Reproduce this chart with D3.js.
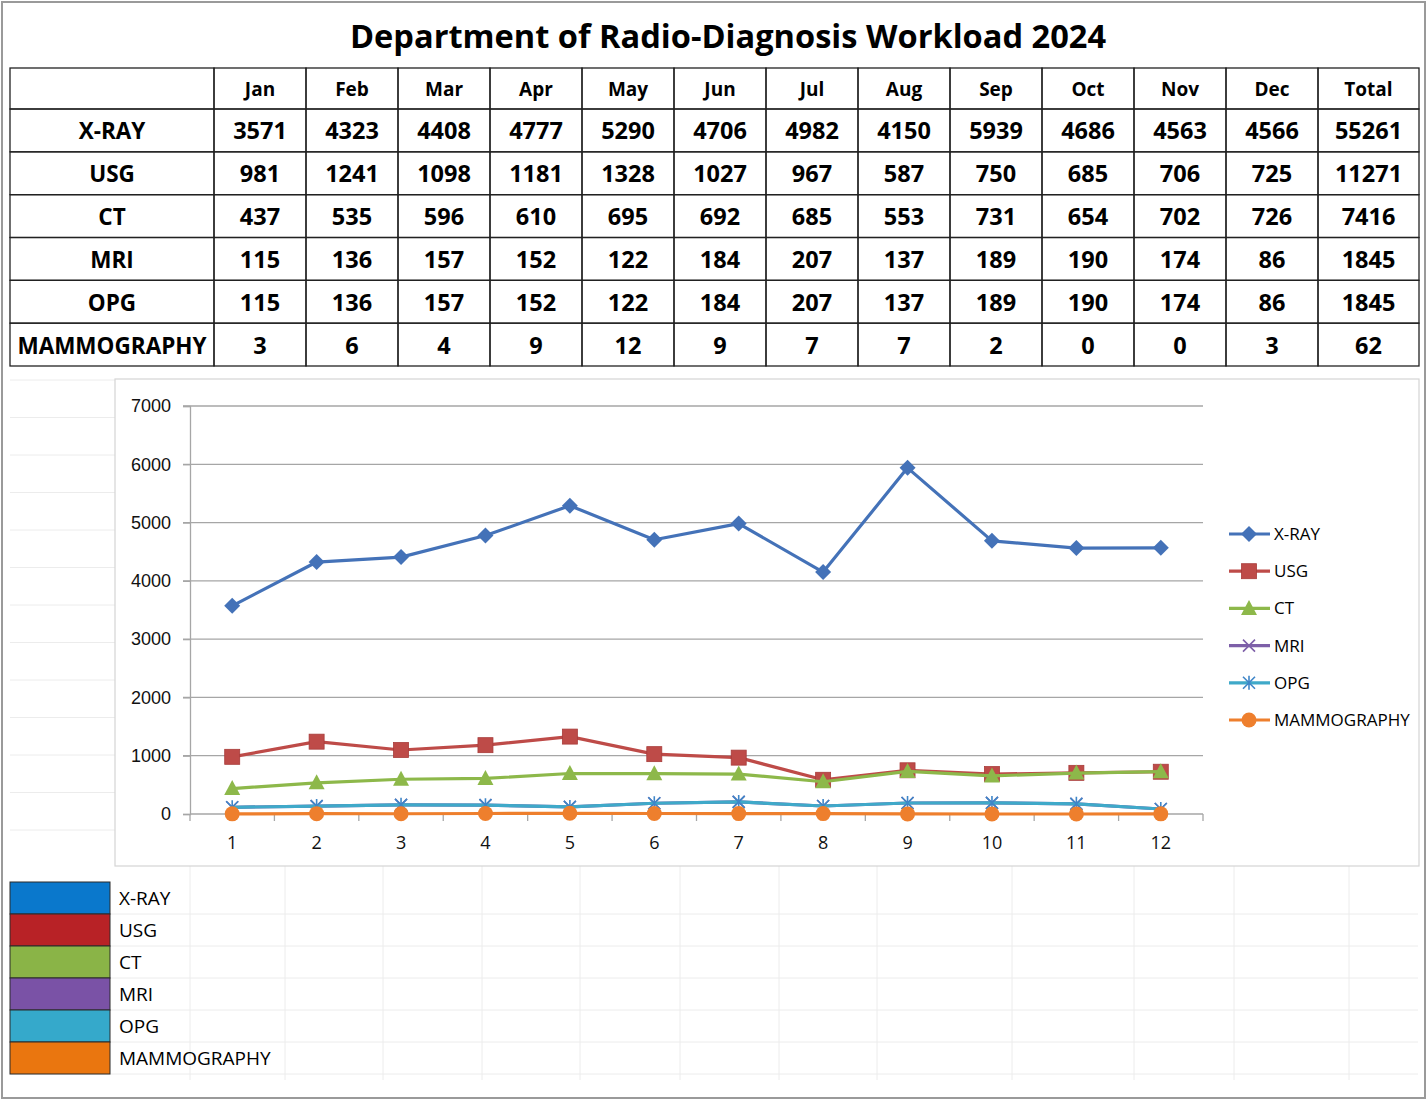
<!DOCTYPE html>
<html>
<head>
<meta charset="utf-8">
<script src="https://d3js.org/d3.v7.min.js"></script>
<style>
  body { margin: 0; background: #fff; }
  svg { font-family: "Open Sans", sans-serif; }
  .cell { fill: none; stroke: #222; stroke-width: 1.3; }
  .sheet line { stroke: #ececec; stroke-width: 1; }
  .grid line { stroke: #a6a6a6; stroke-width: 1.3; }
  .axis text { font-size: 18px; fill: #111; }
</style>
</head>
<body>
<script>
var months = ["Jan", "Feb", "Mar", "Apr", "May", "Jun", "Jul", "Aug", "Sep", "Oct", "Nov", "Dec"];
var names = ["X-RAY", "USG", "CT", "MRI", "OPG", "MAMMOGRAPHY"];
var xray = [3571, 4323, 4408, 4777, 5290, 4706, 4982, 4150, 5939, 4686, 4563, 4566];
var usg = [981, 1241, 1098, 1181, 1328, 1027, 967, 587, 750, 685, 706, 725];
var ct = [437, 535, 596, 610, 695, 692, 685, 553, 731, 654, 702, 726];
var mri = [115, 136, 157, 152, 122, 184, 207, 137, 189, 190, 174, 86];
var opg = [115, 136, 157, 152, 122, 184, 207, 137, 189, 190, 174, 86];
var mammo = [3, 6, 4, 9, 12, 9, 7, 7, 2, 0, 0, 3];
var totals = [55261, 11271, 7416, 1845, 1845, 62];
var yTicks = [0, 1000, 2000, 3000, 4000, 5000, 6000, 7000];
var xTicks = [1, 2, 3, 4, 5, 6, 7, 8, 9, 10, 11, 12];

var values = [xray, usg, ct, mri, opg, mammo];
var lineColors = ["#4472B8", "#BE4B48", "#8DB84A", "#7D5FA8", "#3FA9C9", "#EE7F2D"];
var swatchColors = ["#0A78CC", "#B82226", "#8AB447", "#7A52A6", "#35A9CB", "#EA760F"];
var markers = ["diamond", "square", "triangle", "x", "star", "circle"];

var W = 1428, H = 1101;
var svg = d3.select("body").append("svg").attr("width", W).attr("height", H);

// faint spreadsheet grid behind everything
var sheet = svg.append("g").attr("class", "sheet");
var sheetCols = [190, 285, 383, 482, 580, 680, 779, 877, 1012, 1134, 1234, 1349];
var sheetRows = d3.range(380, 866, 37.5).concat([914, 946, 978, 1010, 1042, 1074]);
sheet.selectAll(".v").data(sheetCols).enter().append("line")
  .attr("x1", function (d) { return d; }).attr("x2", function (d) { return d; })
  .attr("y1", 866).attr("y2", 1080);
sheet.selectAll(".h").data(sheetRows).enter().append("line")
  .attr("x1", 10).attr("x2", function (d) { return d > 866 ? 1418 : 115; })
  .attr("y1", function (d) { return d; }).attr("y2", function (d) { return d; });

// outer frame
svg.append("rect").attr("x", 2).attr("y", 2).attr("width", W - 5).attr("height", H - 5)
  .attr("fill", "none").attr("stroke", "#9a9a9a").attr("stroke-width", 2);

// title
svg.append("text").attr("x", 728).attr("y", 48).attr("text-anchor", "middle")
  .style("font-size", "32.6px").style("font-weight", "bold").attr("fill", "#000")
  .text("Department of Radio-Diagnosis Workload 2024");

// table
var tLeft = 10, tFirst = 214, tTotal = 1318, tRight = 1419, tTop = 68, tHead = 109, tBottom = 366;
var colKeys = months.concat(["Total"]);
var col = d3.scaleBand().domain(months).range([tFirst, tTotal]);
function colX(k) { return k === "Total" ? tTotal : col(k); }
function colW(k) { return k === "Total" ? tRight - tTotal : col.bandwidth(); }
var row = d3.scaleBand().domain(names).range([tHead, tBottom]);
var table = svg.append("g");

table.append("rect").attr("class", "cell").attr("x", tLeft).attr("y", tTop)
  .attr("width", tFirst - tLeft).attr("height", tHead - tTop);
table.selectAll(".hc").data(colKeys).enter().append("rect").attr("class", "cell")
  .attr("x", colX).attr("y", tTop)
  .attr("width", colW).attr("height", tHead - tTop);
table.selectAll(".ht").data(colKeys).enter().append("text")
  .attr("x", function (d) { return colX(d) + colW(d) / 2; })
  .attr("y", tTop + 28).attr("text-anchor", "middle")
  .style("font-size", "19px").style("font-weight", "bold").text(function (d) { return d; });

names.forEach(function (name, i) {
  var cells = values[i].concat([totals[i]]);
  var y0 = row(name), cy = y0 + row.bandwidth() / 2 + 9;
  table.append("rect").attr("class", "cell").attr("x", tLeft).attr("y", y0)
    .attr("width", tFirst - tLeft).attr("height", row.bandwidth());
  table.append("text").attr("x", (tLeft + tFirst) / 2).attr("y", cy)
    .attr("text-anchor", "middle").style("font-size", "22.5px").style("font-weight", "bold")
    .text(name);
  table.selectAll(null).data(cells).enter().append("rect").attr("class", "cell")
    .attr("x", function (d, j) { return colX(colKeys[j]); }).attr("y", y0)
    .attr("width", function (d, j) { return colW(colKeys[j]); }).attr("height", row.bandwidth());
  table.selectAll(null).data(cells).enter().append("text")
    .attr("x", function (d, j) { return colX(colKeys[j]) + colW(colKeys[j]) / 2; })
    .attr("y", cy).attr("text-anchor", "middle")
    .style("font-size", "23.5px").style("font-weight", "bold")
    .text(function (d) { return d; });
});

// chart frame
svg.append("rect").attr("x", 115).attr("y", 379).attr("width", 1304).attr("height", 487)
  .attr("fill", "#fff").attr("stroke", "#d4d4d4").attr("stroke-width", 1.2);

var x = d3.scaleBand().domain(xTicks).range([190, 1203]);
var y = d3.scaleLinear().domain([0, 7000]).range([814, 406]);
function cx(i) { return x(xTicks[i]) + x.bandwidth() / 2; }

var grid = svg.append("g").attr("class", "grid");
grid.selectAll("line").data(yTicks.slice(1)).enter().append("line")
  .attr("x1", 183).attr("x2", 1203)
  .attr("y1", function (d) { return y(d); }).attr("y2", function (d) { return y(d); });

// y axis
var yAxis = svg.append("g").attr("class", "axis").attr("transform", "translate(190,0)")
  .call(d3.axisLeft(y).tickValues(yTicks).tickSize(7).tickPadding(12).tickFormat(d3.format("d")));
yAxis.select(".domain").attr("stroke", "#a6a6a6").attr("stroke-width", 1.3);
yAxis.selectAll(".tick line").attr("stroke", "#a6a6a6").attr("stroke-width", 1.3);

// x axis: ticks sit between categories
var xAxis = svg.append("g").attr("class", "axis").attr("transform", "translate(0," + y(0) + ")");
xAxis.append("line").attr("x1", 190).attr("x2", 1203).attr("stroke", "#a6a6a6").attr("stroke-width", 1.3);
xAxis.selectAll(".tk").data(xTicks.concat(["end"])).enter().append("line")
  .attr("x1", function (d) { return d === "end" ? 1203 : x(d); })
  .attr("x2", function (d) { return d === "end" ? 1203 : x(d); })
  .attr("y1", 0).attr("y2", 7).attr("stroke", "#a6a6a6").attr("stroke-width", 1.3);
xAxis.selectAll("text").data(xTicks).enter().append("text")
  .attr("x", function (d) { return x(d) + x.bandwidth() / 2; }).attr("y", 35)
  .attr("text-anchor", "middle").text(function (d) { return d; });

function drawMarker(g, type, color) {
  if (type === "diamond") {
    g.append("path").attr("d", "M0,-8L8,0L0,8L-8,0Z").attr("fill", color);
  } else if (type === "square") {
    g.append("rect").attr("x", -7.5).attr("y", -7.5).attr("width", 15).attr("height", 15)
      .attr("fill", color).attr("stroke", "#a83c3a").attr("stroke-width", 0.8);
  } else if (type === "triangle") {
    g.append("path").attr("d", "M0,-8.5L8,6.5L-8,6.5Z").attr("fill", color);
  } else if (type === "x") {
    g.append("path").attr("d", "M-6,-6L6,6M6,-6L-6,6").attr("stroke", color).attr("stroke-width", 1.6);
  } else if (type === "star") {
    g.append("path").attr("d", "M-6,-6L6,6M6,-6L-6,6M0,-7L0,7").attr("stroke", "#3f86c8").attr("stroke-width", 1.6);
  } else {
    g.append("circle").attr("r", 7.5).attr("fill", color);
  }
}

var line = d3.line().x(function (d, i) { return cx(i); }).y(function (d) { return y(d); });
var plot = svg.append("g");
values.forEach(function (vals, s) {
  var sg = plot.append("g");
  sg.append("path").attr("d", line(vals)).attr("fill", "none")
    .attr("stroke", lineColors[s]).attr("stroke-width", 3.2).attr("stroke-linejoin", "round");
  vals.forEach(function (v, i) {
    drawMarker(sg.append("g").attr("transform", "translate(" + cx(i) + "," + y(v) + ")"), markers[s], lineColors[s]);
  });
});

// legend on the right
var legendY = d3.scalePoint().domain(names).range([534, 720]);
var legend = svg.append("g");
names.forEach(function (name, s) {
  var ly = legendY(name);
  legend.append("line").attr("x1", 1229).attr("x2", 1270).attr("y1", ly).attr("y2", ly)
    .attr("stroke", lineColors[s]).attr("stroke-width", 3.2);
  drawMarker(legend.append("g").attr("transform", "translate(1249," + ly + ")"), markers[s], lineColors[s]);
  legend.append("text").attr("x", 1274).attr("y", ly + 6).style("font-size", "17px").text(name);
});

// colour key below the chart
var keyY = d3.scaleBand().domain(names).range([882, 1074]);
var key = svg.append("g");
names.forEach(function (name, s) {
  key.append("rect").attr("x", 10).attr("y", keyY(name)).attr("width", 100).attr("height", keyY.bandwidth())
    .attr("fill", swatchColors[s]).attr("stroke", "#2a2a2a").attr("stroke-width", 1);
  key.append("text").attr("x", 119).attr("y", keyY(name) + keyY.bandwidth() / 2 + 7)
    .style("font-size", "19px").text(name);
});
</script>
</body>
</html>
